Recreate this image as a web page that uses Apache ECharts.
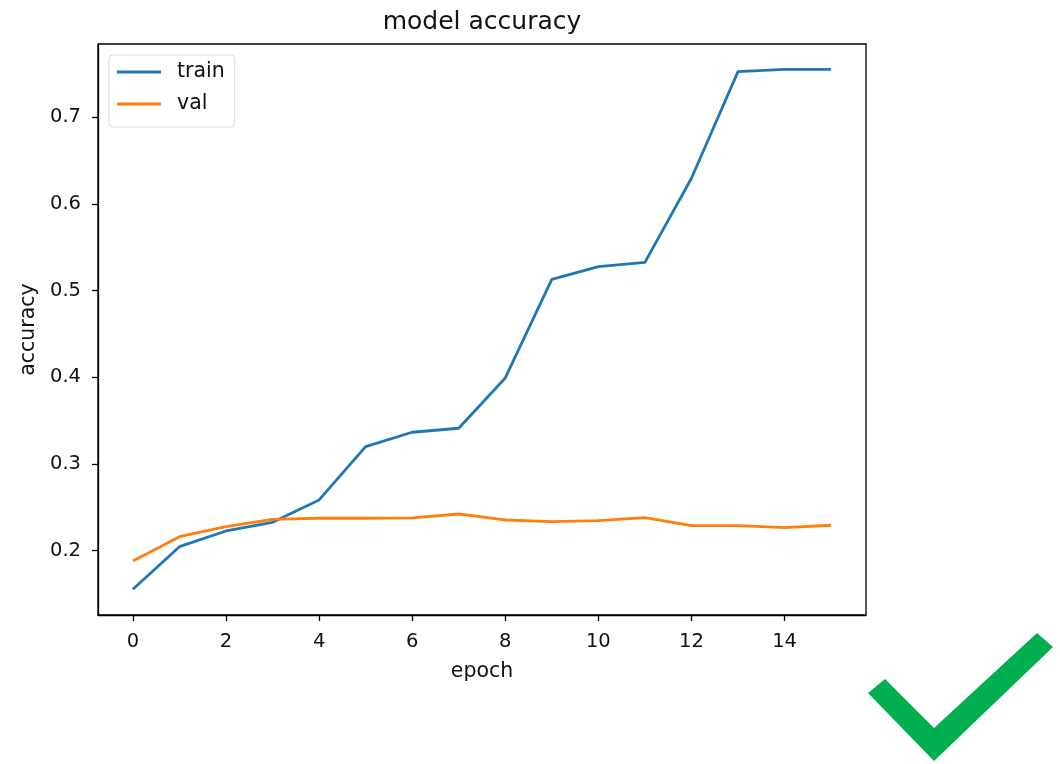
<!DOCTYPE html>
<html>
<head>
<meta charset="utf-8">
<script src="https://cdn.jsdelivr.net/npm/echarts@6/dist/echarts.min.js"></script>
<style>
  html, body { margin: 0; padding: 0; background: #fff; }
  #chart { width: 1060px; height: 764px; }
</style>
</head>
<body>
<div id="chart"></div>
<script>
// epochs and accuracy per epoch
const epochs = [0, 1, 2, 3, 4, 5, 6, 7, 8, 9, 10, 11, 12, 13, 14, 15]
const trainAcc = [0.1555, 0.2046, 0.2227, 0.2327, 0.2585, 0.3200, 0.3366, 0.3412,
  0.3992, 0.5130, 0.5276, 0.5326, 0.6295, 0.7525, 0.7552, 0.7552]
const valAcc = [0.1880, 0.2161, 0.2277, 0.2362, 0.2374, 0.2374, 0.2378, 0.2423,
  0.2354, 0.2335, 0.2346, 0.2380, 0.2288, 0.2288, 0.2265, 0.2293]
const xTicks = [0, 2, 4, 6, 8, 10, 12, 14]
const yTicks = [0.2, 0.3, 0.4, 0.5, 0.6, 0.7]

const font = 'DejaVu Sans'
const pairs = (ys) => epochs.map((e, i) => [e, ys[i]])

let myChart = echarts.init(document.getElementById('chart'))
let option = {
  animation: false,
  backgroundColor: '#fff',
  textStyle: { fontFamily: font, color: '#111' },
  title: {
    text: 'model accuracy',
    left: 477,
    top: 5,
    textAlign: 'center',
    textStyle: { fontFamily: font, fontSize: 25, fontWeight: 'normal', color: '#111' }
  },
  legend: {
    orient: 'vertical',
    left: 109,
    top: 55,
    padding: [6, 10, 12, 8],
    itemWidth: 44,
    itemHeight: 3,
    itemGap: 10,
    icon: 'rect',
    backgroundColor: 'rgba(255,255,255,0.8)',
    borderColor: '#d8d8d8',
    borderWidth: 1,
    borderRadius: 4,
    textStyle: { fontFamily: font, fontSize: 20.5, color: '#111', lineHeight: 22, padding: [0, 0, 0, 11] },
    data: ['train', 'val']
  },
  grid: {
    left: 98,
    top: 44,
    right: 194,
    bottom: 149,
    show: true,
    borderColor: '#000',
    borderWidth: 1.3
  },
  xAxis: {
    type: 'value',
    min: -0.75,
    max: 15.75,
    name: 'epoch',
    nameLocation: 'middle',
    nameGap: 46,
    nameTextStyle: { fontFamily: font, fontSize: 20.5, color: '#111' },
    splitLine: { show: false },
    axisLine: { show: true, onZero: false, lineStyle: { color: '#000', width: 1.3 } },
    axisTick: { show: true, inside: false, length: 6, customValues: xTicks, lineStyle: { color: '#000', width: 1.3 } },
    axisLabel: { customValues: xTicks, fontFamily: font, fontSize: 19.5, color: '#111', margin: 17 }
  },
  yAxis: {
    type: 'value',
    min: 0.1258,
    max: 0.7844,
    name: 'accuracy',
    nameLocation: 'middle',
    nameGap: 58,
    nameRotate: 90,
    nameTextStyle: { fontFamily: font, fontSize: 20.5, color: '#111' },
    splitLine: { show: false },
    axisLine: { show: true, onZero: false, lineStyle: { color: '#000', width: 1.3 } },
    axisTick: { show: true, inside: false, length: 6, customValues: yTicks, lineStyle: { color: '#000', width: 1.3 } },
    axisLabel: {
      customValues: yTicks,
      fontFamily: font,
      fontSize: 19.5,
      color: '#111',
      margin: 17,
      formatter: v => v.toFixed(1)
    }
  },
  series: [
    {
      name: 'train',
      type: 'line',
      data: pairs(trainAcc),
      showSymbol: false,
      color: '#1f77b4',
      lineStyle: { width: 2.8, color: '#1f77b4' }
    },
    {
      name: 'val',
      type: 'line',
      data: pairs(valAcc),
      showSymbol: false,
      color: '#ff7f0e',
      lineStyle: { width: 2.8, color: '#ff7f0e' }
    }
  ],
  // green check mark in the lower right corner
  graphic: [
    {
      type: 'polygon',
      shape: {
        points: [[868, 693], [885, 679], [934, 728], [1037, 633], [1053, 647], [934, 761]]
      },
      style: { fill: '#00b050' }
    }
  ]
}
myChart.setOption(option)
</script>
</body>
</html>
